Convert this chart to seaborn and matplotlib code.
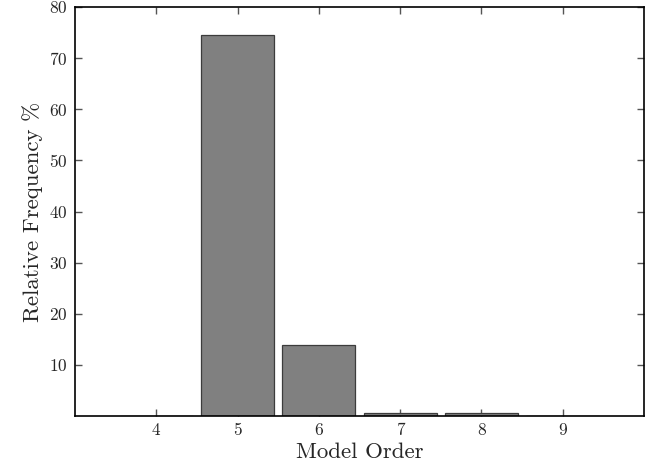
import pandas as pd
import matplotlib
matplotlib.use("Agg")
import matplotlib.pyplot as plt
import seaborn as sns

# model orders and how often each was chosen (%)
orders = [4, 5, 6, 7, 8, 9]
freq = [0.0, 74.5, 14.0, 0.6, 0.6, 0.0]

df = pd.DataFrame({"order": orders, "freq": freq})

sns.set_style("ticks")
plt.rcParams["font.family"] = ["cmr10", "DejaVu Serif"]
plt.rcParams["axes.formatter.use_mathtext"] = True

fig = plt.figure(figsize=(6.45, 4.66), dpi=100)
ax = fig.add_axes([0.1163, 0.107, 0.8822, 0.878])

sns.barplot(data=df, x="order", y="freq", color="#808080", saturation=1,
            width=0.9, edgecolor="#3c3c3c", linewidth=0.9, ax=ax)

ax.set_xlim(-1, 6)
ax.set_ylim(0, 80)
ax.set_yticks([10, 20, 30, 40, 50, 60, 70, 80])
ax.set_xlabel("Model Order", fontsize=16.5, labelpad=3)
ax.set_ylabel("Relative Frequency %", fontsize=16.5, labelpad=5)
ax.tick_params(direction="in", top=True, right=True, length=5, width=1,
               color="#555555", labelsize=12.5, pad=5)
for s in ax.spines.values():
    s.set_visible(True)
    s.set_linewidth(1.2)
    s.set_color("black")

fig.savefig("out.png", dpi=100)
